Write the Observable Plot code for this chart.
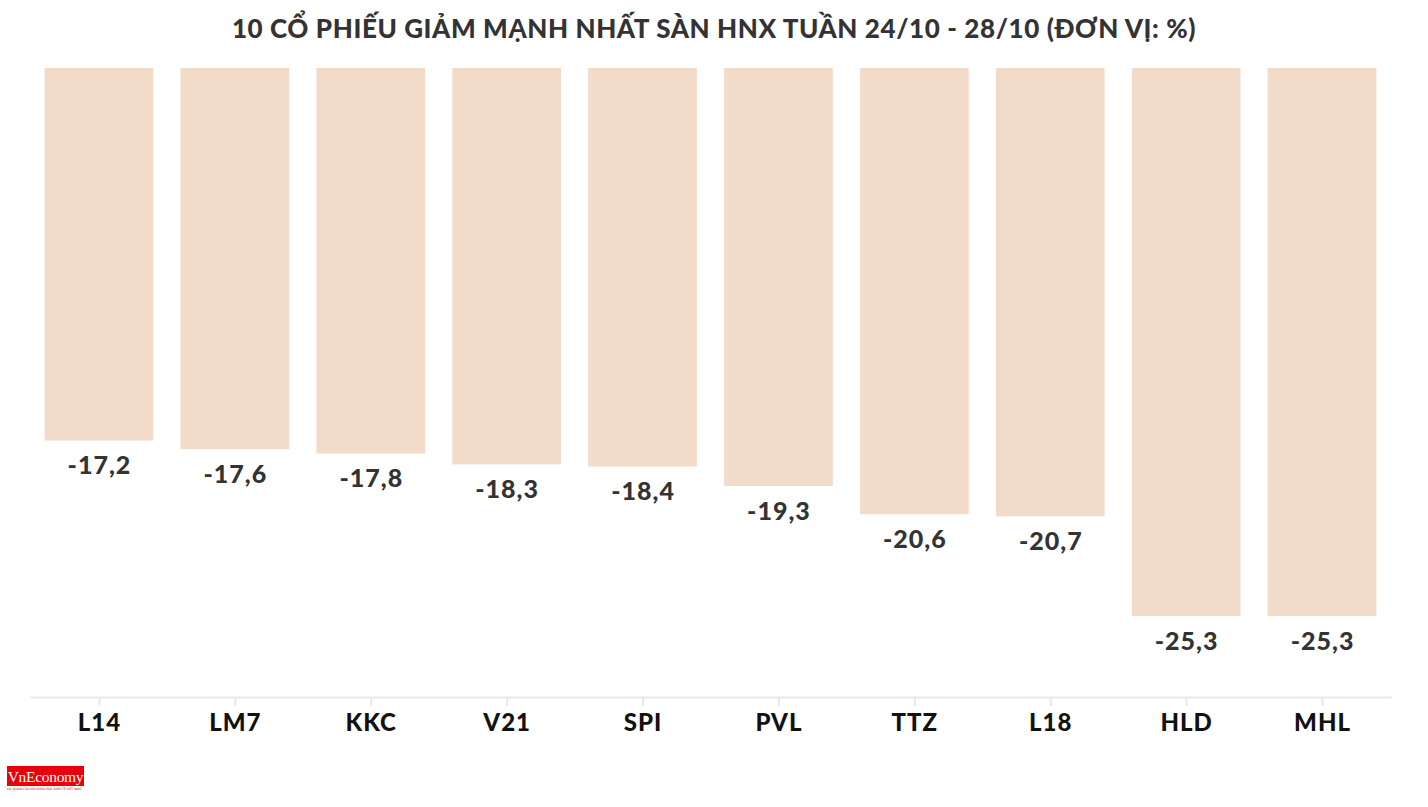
<!DOCTYPE html>
<html>
<head>
<meta charset="utf-8">
<script src="https://cdn.jsdelivr.net/npm/d3@7"></script>
<script src="https://cdn.jsdelivr.net/npm/@observablehq/plot@0.6"></script>
<style>
  html, body { margin: 0; padding: 0; background: #fff; }
  #wrap { position: relative; width: 1428px; height: 807px; overflow: hidden; }
  #title { height: 55px; line-height: 56px; text-align: center; font-family: Lato, sans-serif; font-weight: 900; font-size: 26px; color: #333; letter-spacing: 0.6px; }
  #chart svg text { letter-spacing: 1px; }
  #logo { position: absolute; left: 7px; top: 766px; width: 77px; height: 20px; background: #e8000b; color: #fff; font-family: "Liberation Serif", serif; font-size: 15.5px; line-height: 21px; text-align: center; letter-spacing: -0.3px; }
  #logo small { position: absolute; left: 0; top: 21px; width: 80px; font-family: "DejaVu Sans", sans-serif; font-size: 3px; color: #c00; line-height: 4px; text-align: left; letter-spacing: 0; }
</style>
</head>
<body>
<div id="wrap">
  <div id="title">10 CỔ PHIẾU GIẢM MẠNH NHẤT SÀN HNX TUẦN 24/10 - 28/10 (ĐƠN VỊ: %)</div>
  <div id="chart"></div>
  <div id="logo">VnEconomy<small>CƠ QUAN CỦA HỘI KHOA HỌC KINH TẾ VIỆT NAM</small></div>
</div>
<script>
const tickers = ["L14", "LM7", "KKC", "V21", "SPI", "PVL", "TTZ", "L18", "HLD", "MHL"];
const changes = [-17.2, -17.6, -17.8, -18.3, -18.4, -19.3, -20.6, -20.7, -25.3, -25.3];

const data = tickers.map((t, i) => ({ticker: t, value: changes[i]}));
const fmt = v => v.toFixed(1).replace(".", ",");

const chart = Plot.plot({
  width: 1428,
  height: 752,
  marginLeft: 31,
  marginRight: 38,
  marginTop: 13,
  marginBottom: 110,
  style: {fontFamily: "Lato, sans-serif", background: "#fff"},
  x: {domain: tickers, paddingInner: 0.2, paddingOuter: 0.1, round: false, label: null},
  y: {domain: [0, -25.3], range: [13, 561], axis: null},
  marks: [
    Plot.barY(data, {x: "ticker", y1: 0, y2: "value", fill: "#f3dbc9"}),
    Plot.text(data, {x: "ticker", y: "value", text: d => fmt(d.value), dy: 25, fontSize: 25, fontWeight: 900, fill: "#333"}),
    Plot.frame({anchor: "bottom", stroke: "#e8e8e8", strokeWidth: 2}),
    Plot.axisX({tickSize: 9, stroke: "#e8e8e8", strokeWidth: 2, tickPadding: 7, fontSize: 24, fontWeight: 900, fill: "#111", label: null})
  ]
});
document.getElementById("chart").appendChild(chart);
</script>
</body>
</html>
